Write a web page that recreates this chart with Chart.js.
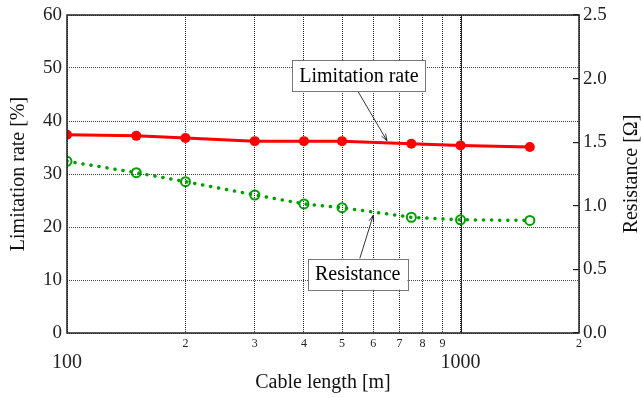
<!DOCTYPE html>
<html>
<head>
<meta charset="utf-8">
<script src="https://cdn.jsdelivr.net/npm/chart.js@4/dist/chart.umd.min.js"></script>
<style>
  html, body { margin: 0; padding: 0; background: #fff; }
  #wrap { width: 641px; height: 398px; }
</style>
</head>
<body>
<div id="wrap"><canvas id="chart"></canvas></div>
<script>
// cable length [m]
const lengths = [100, 150, 200, 300, 400, 500, 750, 1000, 1500];
// limitation rate [%]
const limitationRate = [37.4, 37.2, 36.8, 36.2, 36.2, 36.2, 35.7, 35.4, 35.1];
// resistance [ohm]
const resistance = [1.35, 1.26, 1.19, 1.085, 1.015, 0.985, 0.91, 0.89, 0.885];

const xTicks = [100, 200, 300, 400, 500, 600, 700, 800, 900, 1000, 2000];
const leftTicks = [0, 10, 20, 30, 40, 50, 60];
const rightTicks = [0, 0.5, 1.0, 1.5, 2.0, 2.5];

const serif = "'Liberation Serif', 'Times New Roman', serif";

// text boxes with arrows, placed in data coordinates (left axis)
const notesPlugin = {
  id: 'notes',
  afterDatasetsDraw(chart) {
    const ctx = chart.ctx;
    const xs = chart.scales.x, ys = chart.scales.y;
    const notes = [
      { text: 'Limitation rate', x: 552, y: 48.5, fromY: 'bottom', tipX: 650, tipY: 36.3, shift: -1 },
      { text: 'Resistance', x: 548, y: 11.1, fromY: 'top', tipX: 600, tipY: 22.2, shift: 2 }
    ];
    ctx.save();
    ctx.font = '20px ' + serif;
    notes.forEach(n => {
      const cx = xs.getPixelForValue(n.x);
      const cy = ys.getPixelForValue(n.y);
      const w = ctx.measureText(n.text).width + 14;
      const h = 31;
      // arrow
      const sx = cx + n.shift;
      const sy = n.fromY === 'bottom' ? cy + h / 2 : cy - h / 2;
      const tx = xs.getPixelForValue(n.tipX);
      const ty = ys.getPixelForValue(n.tipY);
      ctx.strokeStyle = '#000';
      ctx.lineWidth = 0.8;
      ctx.beginPath();
      ctx.moveTo(sx, sy);
      ctx.lineTo(tx, ty);
      const a = Math.atan2(ty - sy, tx - sx);
      ctx.moveTo(tx - 7 * Math.cos(a - 0.35), ty - 7 * Math.sin(a - 0.35));
      ctx.lineTo(tx, ty);
      ctx.lineTo(tx - 7 * Math.cos(a + 0.35), ty - 7 * Math.sin(a + 0.35));
      ctx.stroke();
      // box
      ctx.fillStyle = '#fff';
      ctx.fillRect(cx - w / 2, cy - h / 2, w, h);
      ctx.strokeStyle = '#777';
      ctx.lineWidth = 1;
      ctx.strokeRect(Math.round(cx - w / 2) + 0.5, Math.round(cy - h / 2) + 0.5, Math.round(w), h);
      ctx.fillStyle = '#000';
      ctx.textAlign = 'center';
      ctx.textBaseline = 'middle';
      ctx.fillText(n.text, cx, cy + 1);
    });
    ctx.restore();
  }
};

// frame round the plot area, solid decade line, right axis title
const framePlugin = {
  id: 'frame',
  beforeDatasetsDraw(chart) {
    const a = chart.chartArea;
    const ctx = chart.ctx;
    const px = Math.round(chart.scales.x.getPixelForValue(1000)) + 0.5;
    ctx.save();
    ctx.strokeStyle = '#222';
    ctx.lineWidth = 1;
    ctx.beginPath();
    ctx.moveTo(px, a.top);
    ctx.lineTo(px, a.bottom);
    ctx.stroke();
    ctx.restore();
  },
  afterDraw(chart) {
    const a = chart.chartArea;
    const ctx = chart.ctx;
    ctx.save();
    ctx.strokeStyle = '#222';
    ctx.lineWidth = 1.5;
    ctx.strokeRect(a.left, a.top, a.right - a.left, a.bottom - a.top);
    ctx.translate(632, (a.top + a.bottom) / 2);
    ctx.rotate(-Math.PI / 2);
    ctx.fillStyle = '#111';
    ctx.font = '20px ' + serif;
    ctx.textAlign = 'center';
    ctx.textBaseline = 'middle';
    ctx.fillText('Resistance [Ω]', 0, 0);
    ctx.restore();
  }
};

new Chart(document.getElementById('chart'), {
  type: 'line',
  data: {
    datasets: [
      {
        label: 'Limitation rate',
        data: lengths.map((l, i) => ({ x: l, y: limitationRate[i] })),
        yAxisID: 'y',
        borderColor: '#ff0000',
        backgroundColor: '#ff0000',
        borderWidth: 3,
        pointRadius: 5,
        pointBorderWidth: 0,
        pointHoverRadius: 5,
        tension: 0
      },
      {
        label: 'Resistance',
        data: lengths.map((l, i) => ({ x: l, y: resistance[i] })),
        yAxisID: 'y1',
        borderColor: '#00a000',
        backgroundColor: 'rgba(0,0,0,0)',
        borderWidth: 3.5,
        borderDash: [0.1, 8],
        borderCapStyle: 'round',
        pointRadius: 4.5,
        pointBorderWidth: 2,
        pointBorderColor: '#00a000',
        pointHoverRadius: 4.5,
        tension: 0
      }
    ]
  },
  options: {
    responsive: true,
    maintainAspectRatio: false,
    animation: false,
    events: [],
    layout: { padding: { top: 15, left: 0, right: 0, bottom: 0 } },
    plugins: {
      legend: { display: false },
      tooltip: { enabled: false }
    },
    scales: {
      x: {
        type: 'logarithmic',
        min: 100,
        max: 2000,
        afterBuildTicks: s => { s.ticks = xTicks.map(v => ({ value: v, major: v === 100 || v === 1000 })); },
        afterFit: s => { s.height = 65; s.paddingLeft = 0; s.paddingRight = 0; },
        grid: {
          color: '#222',
          lineWidth: 1,
          drawTicks: false
        },
        border: { display: false, dash: [1, 1] },
        ticks: {
          autoSkip: false,
          maxRotation: 0,
          padding: 4,
          color: '#222',
          font: ctx => {
            const v = ctx.tick ? ctx.tick.value : 0;
            return (v === 100 || v === 1000)
              ? { family: serif, size: 20, lineHeight: 0.85 }
              : { family: serif, size: 12, lineHeight: 1.2 };
          },
          callback: v => {
            if (v === 100 || v === 1000) return ['', String(v)];
            if (v === 2000) return '2';
            return String(v / (v < 1000 ? 100 : 1000));
          }
        },
        title: {
          display: true,
          text: 'Cable length [m]',
          color: '#111',
          font: { family: serif, size: 20, lineHeight: 1.2 },
          padding: { top: 0, bottom: 3 }
        }
      },
      y: {
        position: 'left',
        min: 0,
        max: 60,
        afterBuildTicks: s => { s.ticks = leftTicks.map(v => ({ value: v })); },
        afterFit: s => { s.width = 67; s.paddingTop = 0; s.paddingBottom = 0; },
        grid: {
          color: '#444',
          lineWidth: 1,
          drawTicks: false
        },
        border: { display: false, dash: [1, 1] },
        ticks: {
          padding: 5,
          color: '#222',
          font: { family: serif, size: 19 }
        },
        title: {
          display: true,
          text: 'Limitation rate [%]',
          color: '#111',
          font: { family: serif, size: 20, lineHeight: 1.2 },
          padding: { top: 7, bottom: 0 }
        }
      },
      y1: {
        position: 'right',
        min: 0,
        max: 2.5,
        afterBuildTicks: s => { s.ticks = rightTicks.map(v => ({ value: v })); },
        afterFit: s => { s.width = 62; s.paddingTop = 0; s.paddingBottom = 0; },
        grid: {
          drawOnChartArea: false,
          color: '#222',
          lineWidth: 1.2,
          tickLength: -6
        },
        border: { display: false },
        ticks: {
          padding: 10,
          color: '#222',
          font: { family: serif, size: 19 },
          callback: v => v.toFixed(1)
        },
        title: { display: false }
      }
    }
  },
  plugins: [framePlugin, notesPlugin]
});
</script>
</body>
</html>
